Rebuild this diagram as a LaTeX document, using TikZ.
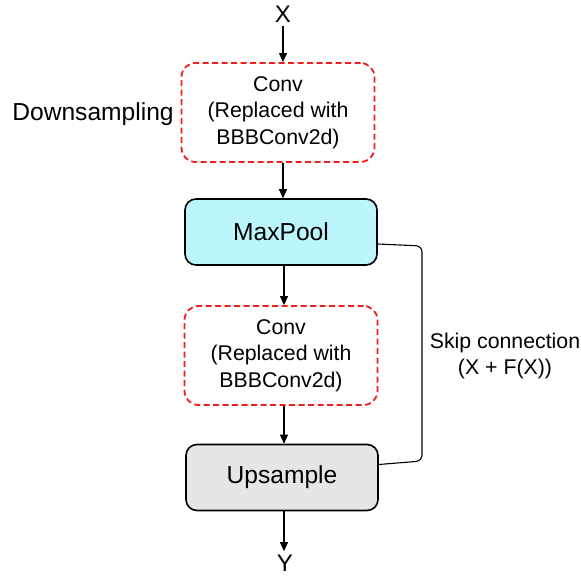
\documentclass[tikz,border=0pt]{standalone}
\usepackage{fontspec}
\setmainfont{Liberation Sans}
\usepackage{tikz}
\usetikzlibrary{arrows.meta, positioning, calc}
\definecolor{convRed}{RGB}{238,30,30}
\definecolor{poolCyan}{RGB}{188,246,253}
\definecolor{upGray}{RGB}{230,230,230}

\begin{document}
\begin{tikzpicture}[x=1pt, y=-1pt,
    conv/.style={draw=convRed, dashed, dash pattern=on 6pt off 3.5pt, line width=1.8pt,
        rounded corners=14pt, minimum width=193pt, minimum height=99pt,
        align=center, font=\fontsize{21.3}{26.5}\selectfont},
    layer/.style={draw=black, line width=1.6pt, rounded corners=11pt,
        minimum width=192pt, minimum height=66pt, font=\fontsize{24.6}{28}\selectfont},
    flow/.style={line width=1.1pt, -{Triangle[length=9pt,width=8pt]}}]
       \useasboundingbox (0,0) rectangle (581,577);
       % main column
       \node[font=\fontsize{24}{28}\selectfont] (x) at (283,14) {X};
       \node[conv] (conv1) at (278,112.5) {Conv\\(Replaced with\\BBBConv2d)};
       \node[layer, fill=poolCyan] (pool) at (281,232) {MaxPool};
       \node[conv] (conv2) at (281,355.5) {Conv\\(Replaced with\\BBBConv2d)};
       \node[layer, fill=upGray] (up) at (282,477.5) {Upsample};
       \node[font=\fontsize{24}{28}\selectfont] (y) at (285,563) {Y};

       \node[font=\fontsize{24.6}{28}\selectfont] (down) at (93,114) {Downsampling};

       \draw[flow] (x.south -| 283,0) -- (conv1.north -| 283,0);
       \draw[flow] (conv1.south -| 283,0) -- (pool.north -| 283,0);
       \draw[flow] (pool.south -| 284,0) -- (conv2.north -| 284,0);
       \draw[flow] (conv2.south -| 284,0) -- (up.north -| 284,0);
       \draw[flow] (up.south -| 284,0) -- (y.north -| 284,0);

       % skip path
       \coordinate (skipA) at ([yshift=-12pt]pool.east);
       \coordinate (skipB) at ([yshift=13pt]up.east);
       \draw[line width=1.1pt, rounded corners=6pt]
            (skipA) -- (422,246) -- (422,461) -- (skipB);
       \node[align=center, font=\fontsize{21.3}{26}\selectfont] (skip) at (505,356)
            {Skip connection\\(X + F(X))};
\end{tikzpicture}
\end{document}
